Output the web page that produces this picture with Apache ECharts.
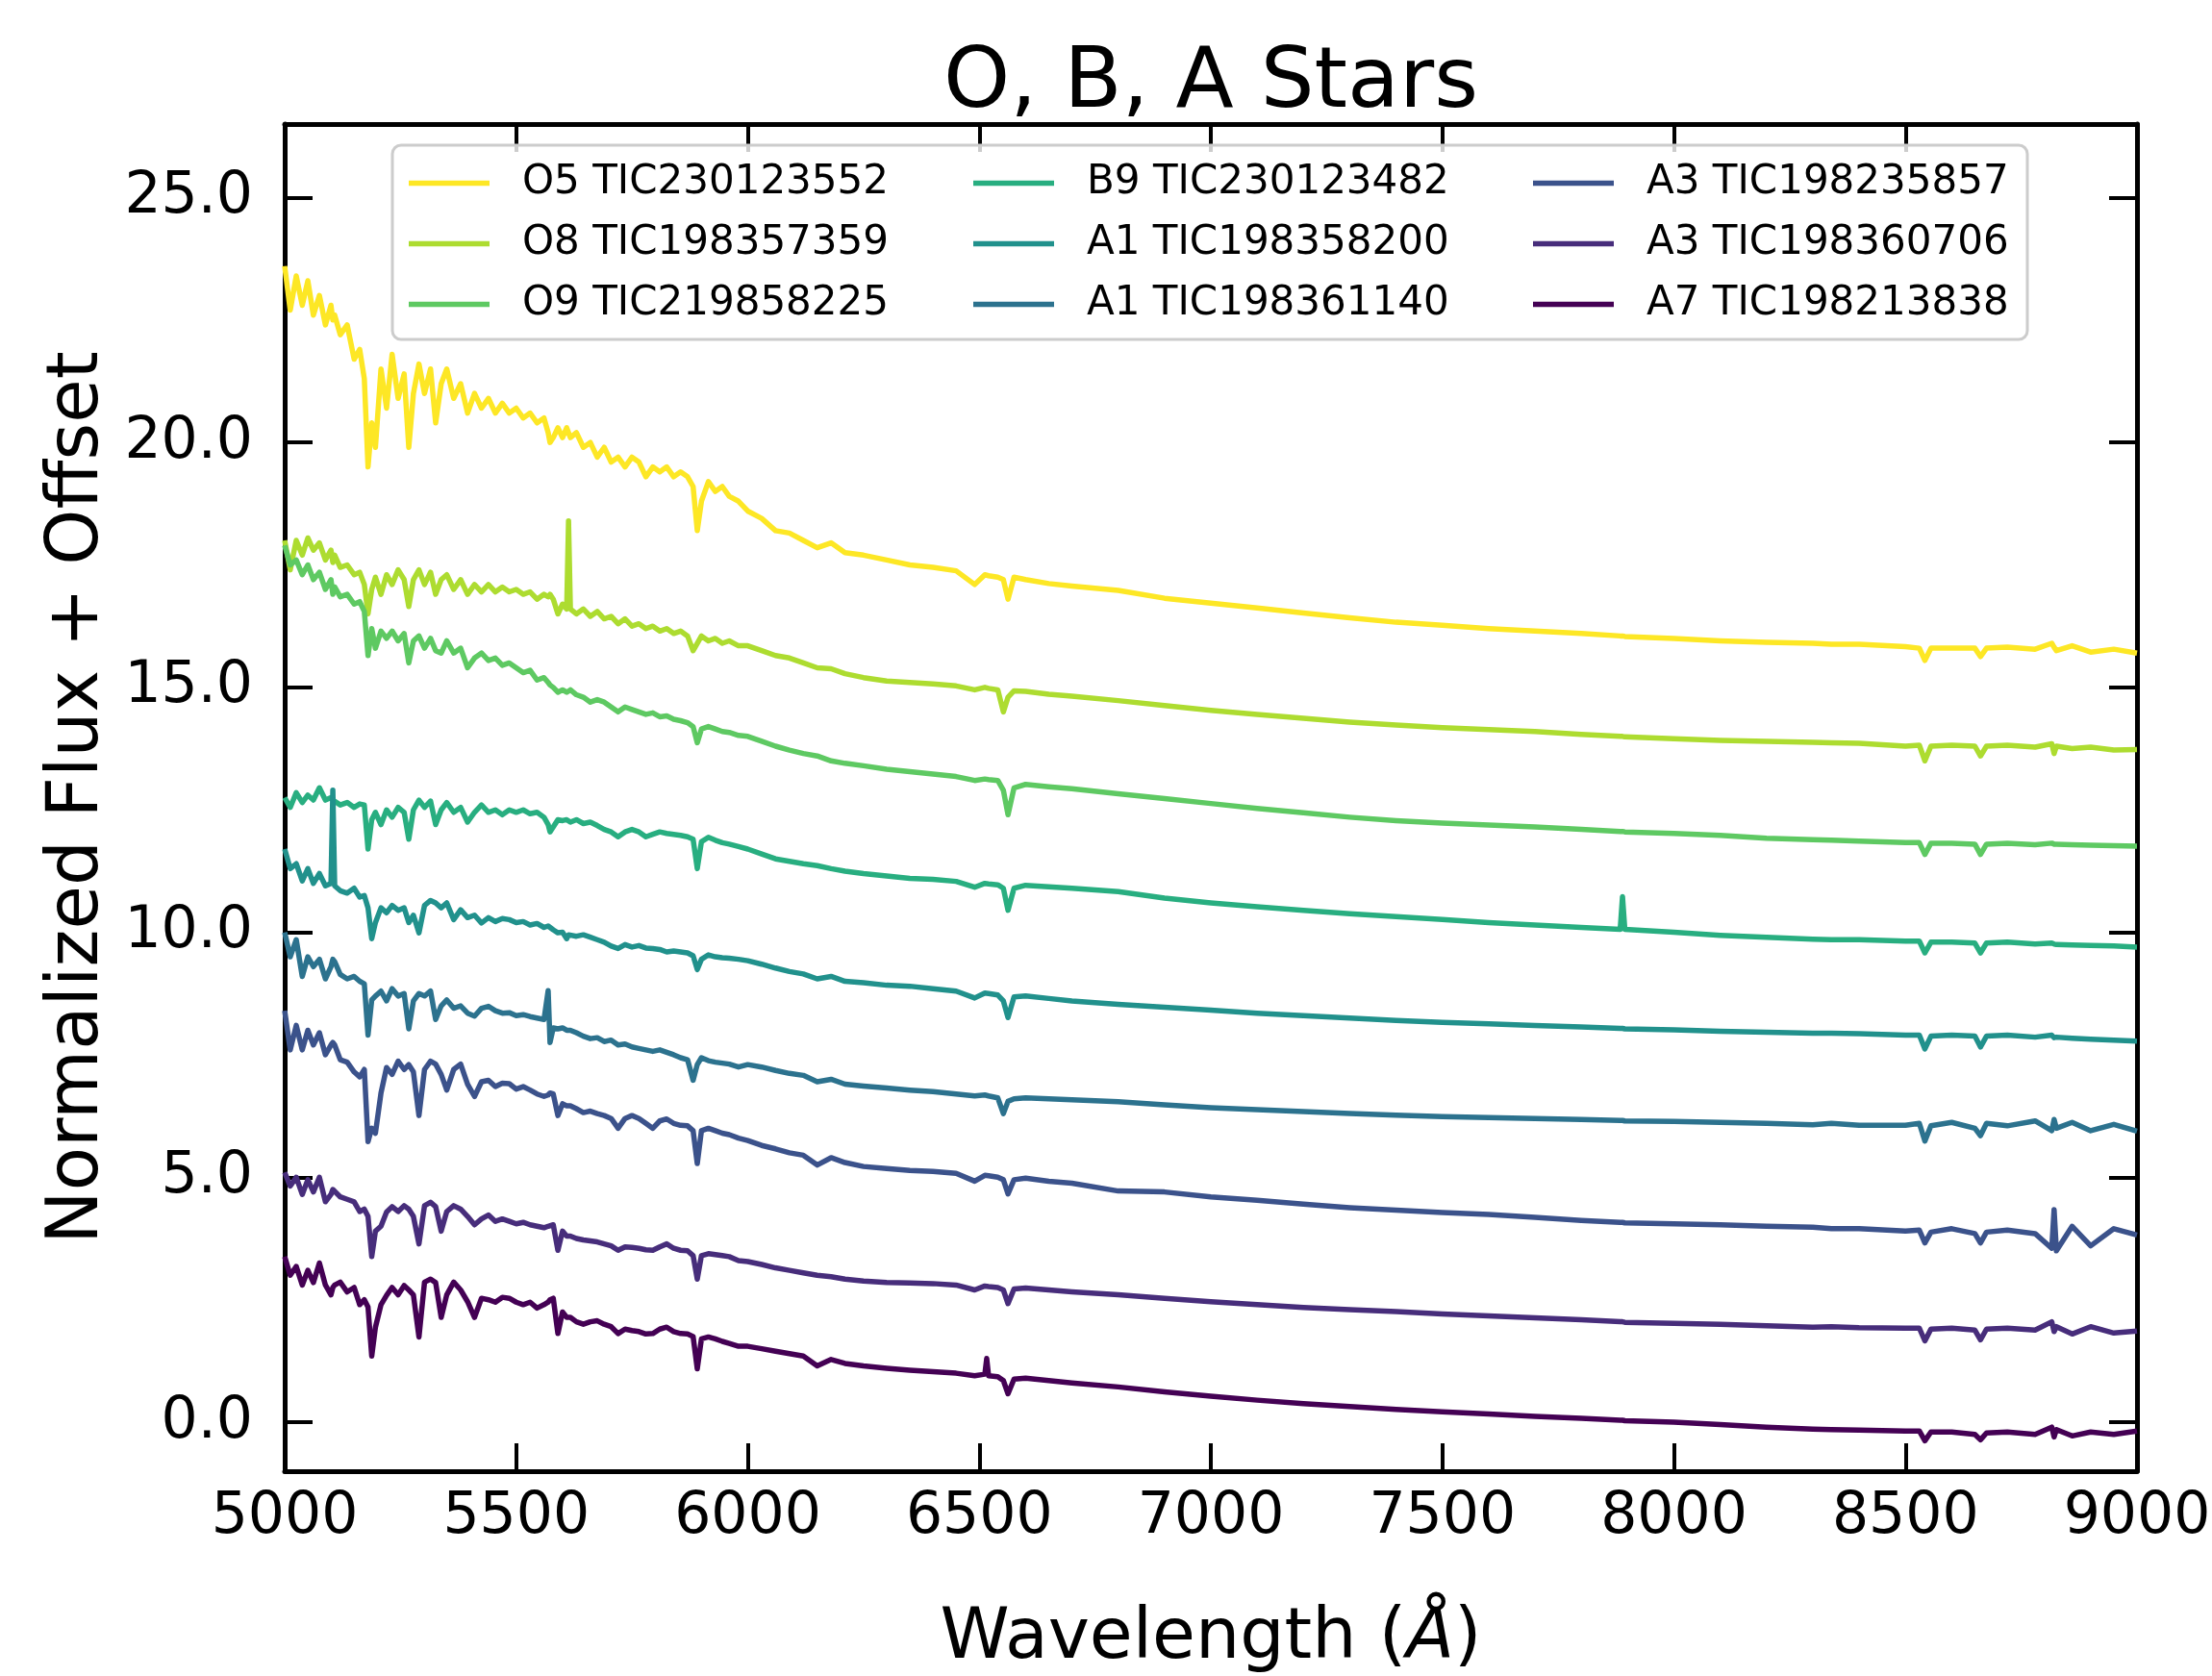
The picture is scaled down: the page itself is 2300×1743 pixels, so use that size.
<!DOCTYPE html>
<html><head><meta charset="utf-8">
<script src="https://cdn.jsdelivr.net/npm/echarts@6/dist/echarts.min.js"></script>
<style>html,body{margin:0;padding:0;background:#fff}#c{width:2300px;height:1743px}</style>
</head><body><div id="c"></div><script>
const FONT = 'DejaVu Sans';

// Wavelength grid (Angstrom), shared by all spectra
const wavelength = [
5000, 5012, 5025, 5038, 5050, 5062, 5075, 5088, 5100, 5104,
5108, 5120, 5135, 5150, 5162, 5172, 5180, 5188, 5196, 5208,
5220, 5232, 5245, 5258, 5268, 5278, 5290, 5302, 5315, 5326,
5338, 5350, 5365, 5380, 5395, 5410, 5425, 5440, 5455, 5470,
5485, 5500, 5515, 5530, 5545, 5560, 5569, 5573, 5580, 5590,
5600, 5609, 5613, 5617, 5630, 5645, 5660, 5675, 5690, 5705,
5720, 5735, 5750, 5765, 5780, 5795, 5810, 5825, 5840, 5855,
5870, 5882, 5891, 5900, 5915, 5930, 5945, 5960, 5980,
6000, 6030, 6060, 6090, 6120, 6150, 6180, 6210, 6250, 6300,
6350, 6400, 6450, 6490, 6512, 6516, 6520, 6540, 6552, 6562,
6575, 6600, 6650, 6700, 6800, 6900, 7000, 7100, 7200, 7300,
7400, 7500, 7600, 7700, 7800, 7884, 7889, 7894, 8000, 8100,
8200, 8300, 8340, 8400, 8500, 8530, 8542, 8555, 8600, 8650,
8662, 8675, 8720, 8780, 8816, 8821, 8826, 8860, 8900, 8950,
9000
];

const yTickValues = [0, 5, 10, 15, 20, 25];

const seriesNames = [
  'O5 TIC230123552', 'O8 TIC198357359', 'O9 TIC219858225',
  'B9 TIC230123482', 'A1 TIC198358200', 'A1 TIC198361140',
  'A3 TIC198235857', 'A3 TIC198360706', 'A7 TIC198213838'
];
const seriesColors = ['#fde725', '#addc30', '#5ec962', '#28ae80', '#21918c', '#2c728e', '#3b528b', '#472d7b', '#440154'];

const fluxO5 = [
23.6, 22.7, 23.4, 22.8, 23.3, 22.6, 23.0, 22.4, 22.8, 22.5,
22.6, 22.2, 22.4, 21.7, 21.9, 21.3, 19.5, 20.4, 19.9, 21.5,
20.7, 21.8, 20.9, 21.4, 19.9, 21.0, 21.6, 21.0, 21.5, 20.4,
21.2, 21.5, 20.9, 21.2, 20.6, 21.0, 20.7, 20.9, 20.6, 20.8,
20.6, 20.7, 20.5, 20.6, 20.4, 20.5, 20.2, 20.0, 20.1, 20.3,
20.1, 20.3, 20.2, 20.1, 20.2, 19.9, 20.0, 19.7, 19.9, 19.6,
19.7, 19.5, 19.7, 19.6, 19.3, 19.5, 19.4, 19.5, 19.3, 19.4,
19.3, 19.1, 18.2, 18.8, 19.2, 19.0, 19.1, 18.9, 18.8,
18.6, 18.45, 18.2, 18.15, 18.0, 17.85, 17.95, 17.75, 17.7, 17.6,
17.5, 17.45, 17.38, 17.1, 17.3, 17.3, 17.28, 17.25, 17.2, 16.8,
17.25, 17.2, 17.12, 17.07, 16.98, 16.82, 16.72, 16.62, 16.52, 16.42,
16.33, 16.27, 16.2, 16.15, 16.1, 16.05, 16.05, 16.04, 16.0, 15.95,
15.92, 15.9, 15.88, 15.88, 15.83, 15.8, 15.55, 15.8, 15.8, 15.8,
15.63, 15.8, 15.82, 15.78, 15.9, 15.82, 15.75, 15.85, 15.72, 15.78,
15.7
];
const fluxO8 = [
18.0, 17.4, 18.0, 17.7, 18.05, 17.8, 17.95, 17.6, 17.8, 17.55,
17.7, 17.45, 17.5, 17.3, 17.35, 17.1, 16.5, 17.0, 17.25, 16.9,
17.3, 17.1, 17.4, 17.2, 16.65, 17.2, 17.4, 17.1, 17.35, 16.9,
17.2, 17.3, 17.0, 17.2, 16.9, 17.1, 16.95, 17.1, 16.95, 17.05,
16.95, 17.0, 16.9, 16.95, 16.8, 16.9, 16.85, 16.9, 16.8, 16.5,
16.7, 16.6, 18.4, 16.6, 16.5, 16.6, 16.45, 16.55, 16.4, 16.45,
16.3, 16.4, 16.25, 16.3, 16.2, 16.25, 16.15, 16.2, 16.1, 16.15,
16.05, 15.75, 15.9, 16.05, 15.95, 16.0, 15.9, 15.95, 15.85,
15.85, 15.75, 15.65, 15.6, 15.5, 15.4, 15.38, 15.28, 15.2, 15.13,
15.1, 15.07, 15.03, 14.95, 15.0, 15.0, 14.98, 14.95, 14.5, 14.8,
14.93, 14.92, 14.86, 14.82, 14.73, 14.63, 14.53, 14.45, 14.37, 14.29,
14.23, 14.18, 14.14, 14.1, 14.04, 14.0, 14.0, 13.99, 13.95, 13.92,
13.9, 13.88, 13.87, 13.86, 13.8, 13.82, 13.5, 13.8, 13.82, 13.8,
13.6, 13.8, 13.82, 13.78, 13.85, 13.65, 13.8, 13.75, 13.78, 13.72,
13.73
];
const fluxO9 = [
17.9, 17.5, 17.6, 17.3, 17.5, 17.2, 17.35, 17.0, 17.2, 16.9,
17.05, 16.85, 16.9, 16.7, 16.75, 16.55, 15.65, 16.2, 15.8, 16.15,
16.0, 16.15, 15.95, 16.1, 15.5, 15.95, 16.05, 15.8, 16.0, 15.75,
15.7, 15.95, 15.7, 15.8, 15.4, 15.6, 15.7, 15.55, 15.6, 15.45,
15.5, 15.4, 15.3, 15.35, 15.15, 15.2, 15.1, 15.05, 15.0, 14.9,
14.95, 14.9, 14.92, 14.95, 14.85, 14.8, 14.7, 14.75, 14.7, 14.6,
14.5, 14.6, 14.55, 14.5, 14.45, 14.48, 14.4, 14.42, 14.35, 14.32,
14.28, 14.2, 13.87, 14.15, 14.2, 14.15, 14.1, 14.08, 14.02,
14.0, 13.9, 13.8, 13.72, 13.65, 13.6, 13.5, 13.45, 13.4, 13.33,
13.28, 13.23, 13.18, 13.1, 13.13, 13.13, 13.12, 13.1, 12.9, 12.4,
12.95, 13.02, 12.97, 12.93, 12.83, 12.73, 12.63, 12.53, 12.44, 12.35,
12.28, 12.23, 12.19, 12.15, 12.1, 12.06, 12.06, 12.05, 12.02, 11.98,
11.92, 11.89, 11.88, 11.86, 11.83, 11.83, 11.59, 11.82, 11.82, 11.8,
11.59, 11.8, 11.82, 11.79, 11.82, 11.8, 11.8, 11.79, 11.78, 11.77,
11.76
];
const fluxB9 = [
12.75, 12.55, 12.85, 12.65, 12.8, 12.7, 12.95, 12.7, 12.75, 12.7,
12.72, 12.6, 12.65, 12.55, 12.62, 12.6, 11.7, 12.3, 12.45, 12.2,
12.5, 12.35, 12.55, 12.45, 11.9, 12.5, 12.7, 12.55, 12.68, 12.2,
12.5, 12.65, 12.45, 12.55, 12.25, 12.45, 12.6, 12.45, 12.5, 12.4,
12.5, 12.45, 12.5, 12.42, 12.45, 12.35, 12.2, 12.05, 12.15, 12.3,
12.28, 12.3, 12.28, 12.25, 12.3, 12.22, 12.25, 12.18, 12.1, 12.05,
11.95, 12.05, 12.1, 12.05, 11.95, 12.0, 12.05, 12.02, 12.0, 11.98,
11.95, 11.9, 11.3, 11.85, 11.94, 11.88, 11.83, 11.8, 11.75,
11.7, 11.6, 11.5, 11.45, 11.4, 11.36, 11.3, 11.25, 11.2, 11.15,
11.1, 11.08, 11.04, 10.92, 11.0, 11.0, 10.99, 10.97, 10.9, 10.45,
10.9, 10.96, 10.93, 10.9, 10.83, 10.7, 10.6, 10.52, 10.45, 10.38,
10.32, 10.26, 10.2, 10.15, 10.1, 10.06, 10.73, 10.06, 10.0, 9.94,
9.9, 9.86, 9.85, 9.85, 9.82, 9.82, 9.58, 9.8, 9.8, 9.78,
9.58, 9.78, 9.8, 9.76, 9.78, 9.76, 9.75, 9.74, 9.73, 9.72,
9.7
];
const fluxA1a = [
11.7, 11.3, 11.4, 11.05, 11.3, 11.0, 11.2, 10.95, 11.0, 12.9,
10.95, 10.85, 10.8, 10.9, 10.72, 10.75, 10.5, 9.87, 10.2, 10.5,
10.4, 10.55, 10.45, 10.5, 10.2, 10.35, 9.99, 10.55, 10.65, 10.6,
10.5, 10.6, 10.26, 10.46, 10.3, 10.35, 10.19, 10.3, 10.22, 10.28,
10.26, 10.2, 10.22, 10.15, 10.18, 10.1, 10.13, 10.1, 10.05, 9.99,
10.0, 9.87, 9.95, 9.97, 9.92, 9.95, 9.9, 9.85, 9.8, 9.72,
9.67, 9.75, 9.7, 9.73, 9.68, 9.67, 9.65, 9.6, 9.62, 9.6,
9.58, 9.52, 9.24, 9.45, 9.54, 9.5, 9.48, 9.47, 9.45,
9.42, 9.35, 9.27, 9.2, 9.15, 9.05, 9.1, 9.0, 8.97, 8.92,
8.9, 8.85, 8.8, 8.66, 8.76, 8.76, 8.75, 8.72, 8.6, 8.26,
8.68, 8.7, 8.65, 8.6, 8.53, 8.47, 8.41, 8.35, 8.3, 8.25,
8.2, 8.16, 8.13, 8.1, 8.07, 8.04, 8.04, 8.03, 8.01, 7.98,
7.96, 7.94, 7.94, 7.93, 7.9, 7.9, 7.62, 7.88, 7.9, 7.88,
7.66, 7.88, 7.9, 7.86, 7.9, 7.85, 7.86, 7.84, 7.82, 7.8,
7.78
];
const fluxA1b = [
10.0, 9.5, 9.85, 9.1, 9.5, 9.3, 9.45, 9.05, 9.3, 9.45,
9.4, 9.14, 9.05, 9.1, 9.0, 8.95, 7.9, 8.62, 8.7, 8.8,
8.6, 8.85, 8.7, 8.75, 8.03, 8.6, 8.75, 8.7, 8.8, 8.22,
8.5, 8.62, 8.45, 8.5, 8.35, 8.29, 8.45, 8.49, 8.4, 8.35,
8.36, 8.3, 8.32, 8.28, 8.25, 8.22, 8.81, 7.75, 8.05, 8.03,
8.05, 8.0, 8.03, 8.0, 7.95, 7.88, 7.83, 7.85, 7.77, 7.8,
7.7, 7.72, 7.66, 7.63, 7.6, 7.57, 7.6, 7.55, 7.5, 7.44,
7.4, 6.98, 7.3, 7.44, 7.38, 7.35, 7.33, 7.31, 7.25,
7.3, 7.25, 7.18, 7.12, 7.08, 6.95, 7.0, 6.9, 6.86, 6.82,
6.78, 6.75, 6.7, 6.66, 6.68, 6.68, 6.66, 6.62, 6.3, 6.55,
6.6, 6.62, 6.6, 6.58, 6.54, 6.48, 6.42, 6.38, 6.34, 6.3,
6.27, 6.24, 6.22, 6.2, 6.18, 6.16, 6.16, 6.15, 6.14, 6.12,
6.1, 6.07, 6.1, 6.06, 6.06, 6.1, 5.74, 6.05, 6.12, 6.0,
5.85, 6.1, 6.05, 6.15, 5.95, 6.18, 6.0, 6.12, 5.95, 6.08,
5.94
];
const fluxA3a = [
8.4, 7.6, 8.1, 7.6, 8.0, 7.7, 7.95, 7.5, 7.7, 7.75,
7.7, 7.4, 7.35, 7.15, 7.05, 7.2, 5.73, 6.0, 5.9, 6.72,
7.24, 7.1, 7.37, 7.2, 7.3, 7.15, 6.26, 7.2, 7.37, 7.31,
7.1, 6.78, 7.2, 7.31, 6.9, 6.65, 6.95, 6.98, 6.85, 6.92,
6.91, 6.8, 6.85, 6.78, 6.7, 6.65, 6.68, 6.72, 6.7, 6.26,
6.5, 6.46, 6.48, 6.46, 6.4, 6.32, 6.35, 6.3, 6.26, 6.2,
6.0, 6.2, 6.26, 6.2, 6.1, 6.0, 6.15, 6.19, 6.1, 6.06,
6.05, 5.95, 5.28, 5.95, 6.0, 5.95, 5.9, 5.87, 5.8,
5.75, 5.65, 5.58, 5.5, 5.45, 5.25, 5.4, 5.3, 5.22, 5.18,
5.14, 5.12, 5.08, 4.92, 5.04, 5.04, 5.03, 5.0, 4.95, 4.66,
4.95, 4.98, 4.92, 4.88, 4.72, 4.7, 4.6, 4.53, 4.45, 4.38,
4.33, 4.28, 4.24, 4.18, 4.12, 4.08, 4.08, 4.07, 4.05, 4.03,
4.0, 3.98, 3.95, 3.95, 3.9, 3.92, 3.66, 3.88, 3.95, 3.85,
3.66, 3.88, 3.92, 3.85, 3.55, 4.34, 3.5, 4.0, 3.6, 3.95,
3.82
];
const fluxA3b = [
5.1, 4.82, 5.0, 4.65, 4.95, 4.7, 5.0, 4.5, 4.65, 4.75,
4.72, 4.6, 4.55, 4.5, 4.3, 4.35, 4.2, 3.38, 3.9, 4.0,
4.29, 4.4, 4.3, 4.42, 4.35, 4.2, 3.64, 4.42, 4.49, 4.4,
3.9, 4.3, 4.42, 4.35, 4.2, 4.03, 4.15, 4.23, 4.1, 4.15,
4.1, 4.05, 4.08, 4.03, 4.0, 3.97, 4.0, 4.02, 4.03, 3.51,
3.9, 3.8, 3.77, 3.8, 3.75, 3.72, 3.7, 3.68, 3.64, 3.6,
3.51, 3.58, 3.57, 3.55, 3.52, 3.51, 3.58, 3.64, 3.55, 3.51,
3.5, 3.4, 2.92, 3.4, 3.44, 3.42, 3.4, 3.38, 3.3,
3.28, 3.22, 3.15, 3.1, 3.05, 3.0, 2.97, 2.92, 2.88, 2.85,
2.84, 2.83, 2.8, 2.7, 2.78, 2.78, 2.77, 2.75, 2.7, 2.42,
2.72, 2.74, 2.7, 2.66, 2.6, 2.53, 2.46, 2.4, 2.34, 2.3,
2.26, 2.21, 2.17, 2.13, 2.09, 2.05, 2.05, 2.04, 2.02, 2.0,
1.97, 1.94, 1.95, 1.93, 1.92, 1.92, 1.66, 1.9, 1.92, 1.88,
1.68, 1.9, 1.92, 1.88, 2.05, 1.85, 1.95, 1.8, 1.95, 1.82,
1.86
];
const fluxA7 = [
3.38, 3.0, 3.18, 2.8, 3.1, 2.85, 3.25, 2.8, 2.6, 2.75,
2.8, 2.86, 2.66, 2.75, 2.4, 2.5, 2.35, 1.35, 1.94, 2.4,
2.59, 2.75, 2.6, 2.79, 2.7, 2.6, 1.74, 2.86, 2.92, 2.85,
2.14, 2.6, 2.86, 2.7, 2.46, 2.14, 2.53, 2.5, 2.45, 2.55,
2.53, 2.45, 2.4, 2.45, 2.33, 2.4, 2.45, 2.5, 2.53, 1.81,
2.25, 2.14, 2.15, 2.14, 2.05, 2.0, 2.05, 2.07, 2.0, 1.95,
1.81, 1.9, 1.87, 1.85, 1.8, 1.81, 1.9, 1.94, 1.85, 1.81,
1.8, 1.75, 1.09, 1.7, 1.74, 1.7, 1.65, 1.61, 1.55,
1.55, 1.5, 1.45, 1.4, 1.35, 1.15, 1.28, 1.2, 1.15, 1.1,
1.06, 1.03, 1.0, 0.95, 0.98, 1.3, 0.95, 0.93, 0.85, 0.58,
0.88, 0.9, 0.85, 0.8, 0.72, 0.62, 0.53, 0.45, 0.38, 0.32,
0.26, 0.21, 0.17, 0.12, 0.08, 0.04, 0.04, 0.03, 0.0, -0.05,
-0.1, -0.14, -0.15, -0.16, -0.18, -0.18, -0.38, -0.2, -0.2, -0.25,
-0.36, -0.22, -0.2, -0.25, -0.1, -0.3, -0.15, -0.28, -0.2, -0.25,
-0.18
];

const fluxes = [fluxO5, fluxO8, fluxO9, fluxB9, fluxA1a, fluxA1b, fluxA3a, fluxA3b, fluxA7];

const chart = echarts.init(document.getElementById('c'), null, {renderer: 'canvas', width: 2300, height: 1743});

const series = seriesNames.map((name, k) => ({
  name: name,
  type: 'line',
  data: wavelength.map((w, i) => [w, fluxes[k][i]]),
  showSymbol: false,
  symbol: 'none',
  silent: true,
  animation: false,
  lineStyle: {width: 5.5, color: seriesColors[k], join: 'round'},
  itemStyle: {color: seriesColors[k]},
  z: 2
}));

const axisLineStyle = {show: true, onZero: false, lineStyle: {color: '#000', width: 5}};
const tickStyle = {show: true, inside: true, length: 29, lineStyle: {color: '#000', width: 4}};

const legendBase = {
  orient: 'vertical', top: 159, padding: 0, itemWidth: 84, itemHeight: 5.5, itemGap: 0,
  icon: 'rect', selectedMode: false, z: 10,
  textStyle: {fontFamily: FONT, fontSize: 42, color: '#000', lineHeight: 63, padding: [0, 0, 0, 29]}
};

chart.setOption({
  animation: false,
  backgroundColor: '#fff',
  title: {
    text: 'O, B, A Stars', left: 1259, textAlign: 'center', top: 44, padding: 0,
    textStyle: {fontFamily: FONT, fontSize: 88, fontWeight: 'normal', color: '#000'}
  },
  grid: {left: 296, right: 78, top: 129, bottom: 213, containLabel: false, outerBoundsMode: 'none'},
  legend: [
    Object.assign({}, legendBase, {left: 425, data: seriesNames.slice(0, 3)}),
    Object.assign({}, legendBase, {left: 1012, data: seriesNames.slice(3, 6)}),
    Object.assign({}, legendBase, {left: 1594, data: seriesNames.slice(6, 9)})
  ],
  graphic: [{
    type: 'rect', z: 5, silent: true,
    shape: {x: 408, y: 151, width: 1700, height: 202, r: 9},
    style: {fill: 'rgba(255,255,255,0.8)', stroke: '#cccccc', lineWidth: 3}
  }],
  xAxis: [
    {
      type: 'value', min: 5000, max: 9000, interval: 500, position: 'bottom',
      name: 'Wavelength ({i|Å})', nameLocation: 'middle', nameGap: 139,
      nameTextStyle: {fontFamily: FONT, fontSize: 73, color: '#000',
        rich: {i: {fontFamily: FONT, fontSize: 73, fontStyle: 'italic', color: '#000'}}},
      axisLine: axisLineStyle, axisTick: tickStyle,
      axisLabel: {show: true, margin: 18, fontFamily: FONT, fontSize: 60, color: '#000',
        showMinLabel: true, showMaxLabel: true, hideOverlap: false, formatter: v => String(v)},
      splitLine: {show: false}
    },
    {
      type: 'value', min: 5000, max: 9000, interval: 500, position: 'top',
      axisLine: axisLineStyle, axisTick: tickStyle, axisLabel: {show: false}, splitLine: {show: false}
    }
  ],
  yAxis: [
    {
      type: 'value', min: -1, max: 26.5, position: 'left',
      name: 'Normalized Flux + Offset', nameLocation: 'middle', nameGap: 175, nameRotate: 90,
      nameTextStyle: {fontFamily: FONT, fontSize: 74, color: '#000'},
      axisLine: axisLineStyle,
      axisTick: Object.assign({}, tickStyle, {customValues: yTickValues}),
      axisLabel: {show: true, customValues: yTickValues, margin: 33, fontFamily: FONT, fontSize: 60, color: '#000',
        formatter: v => Number(v).toFixed(1)},
      splitLine: {show: false}
    },
    {
      type: 'value', min: -1, max: 26.5, position: 'right',
      axisLine: axisLineStyle,
      axisTick: Object.assign({}, tickStyle, {customValues: yTickValues}),
      axisLabel: {show: false, customValues: yTickValues},
      splitLine: {show: false}
    }
  ],
  series: series
});
</script></body></html>
